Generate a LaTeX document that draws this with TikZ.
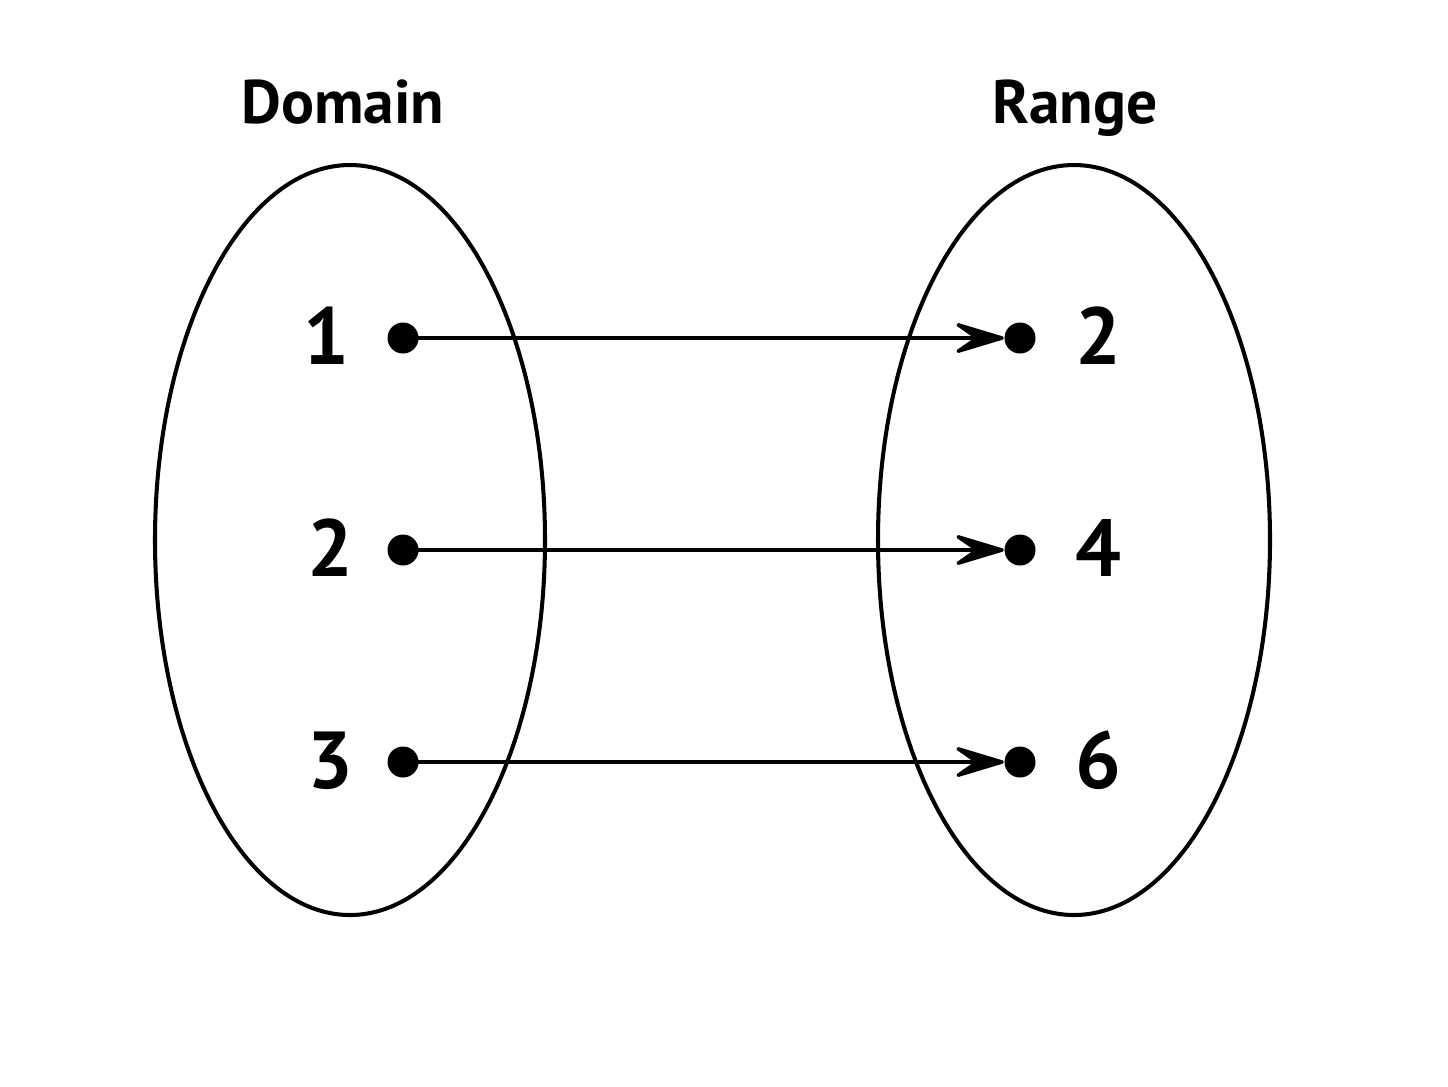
\documentclass[tikz,border=0pt]{standalone}
\usepackage{fontspec}
\setmainfont{PT Sans}
\usetikzlibrary{arrows.meta}
\begin{document}
\begin{tikzpicture}[x=0.1mm,y=-0.1mm,
  set/.style={line width=1.15pt},
  dot/.style={circle,fill=black,inner sep=0pt,minimum size=3.1mm},
  num/.style={font=\fontsize{23}{27}\selectfont\bfseries,anchor=base},
  title/.style={font=\fontsize{17.5}{21}\selectfont\bfseries,anchor=base},
  map/.style={line width=1pt,-{Stealth[length=6mm,width=3.6mm,inset=2.6mm,round]}}]
\useasboundingbox (0,0) rectangle (1448,1086);
\draw[set] (350,540) ellipse [x radius=195, y radius=375];
\draw[set] (1074,540) ellipse [x radius=196, y radius=375];
\node[title] (dom) at (343,123) {Domain};
\node[title] (ran) at (1075,123) {Range};
\node[dot] (a1) at (403,338) {};
\node[dot] (a2) at (403,550) {};
\node[dot] (a3) at (403,762) {};
\node[dot] (b1) at (1020,338) {};
\node[dot] (b2) at (1020,550) {};
\node[dot] (b3) at (1020,762) {};
\node[num] (la1) at (326,364) {1};
\node[num] (la2) at (330,576) {2};
\node[num] (la3) at (330,788) {3};
\node[num] (lb1) at (1098,364) {2};
\node[num] (lb2) at (1098,576) {4};
\node[num] (lb3) at (1098,788) {6};
\draw[map] (a1.center) -- (b1);
\draw[map] (a2.center) -- (b2);
\draw[map] (a3.center) -- (b3);
\end{tikzpicture}
\end{document}
